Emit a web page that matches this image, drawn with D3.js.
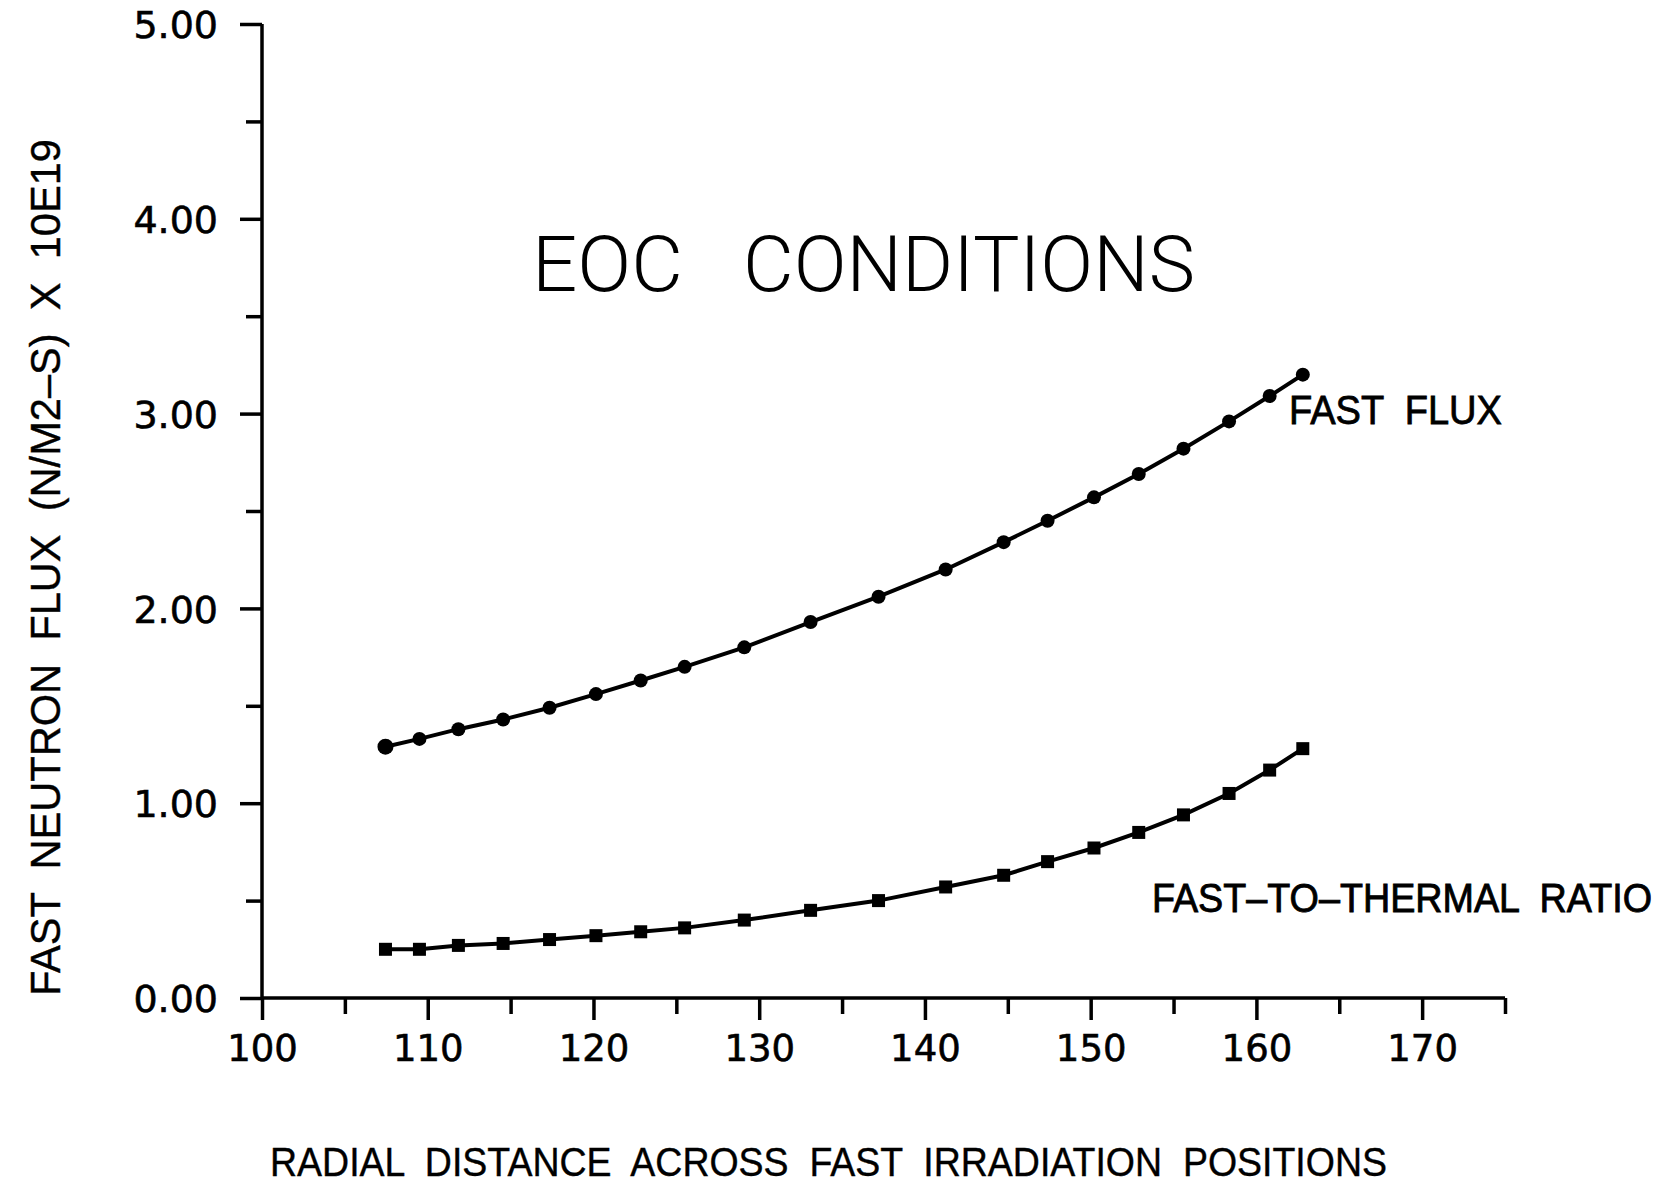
<!DOCTYPE html>
<html>
<head>
<meta charset="utf-8">
<script src="https://cdn.jsdelivr.net/npm/d3@7"></script>
<style>
  html, body { margin: 0; padding: 0; background: #fff; }
  svg { display: block; }
  text { white-space: pre; }
</style>
</head>
<body>
<svg id="chart" width="1680" height="1184"></svg>
<script>
// ---- data ----
const radialPositions = [107.45, 109.5, 111.85, 114.55, 117.35, 120.15, 122.85, 125.5, 129.1, 133.1,
                         137.2, 141.25, 144.75, 147.4, 150.2, 152.9, 155.6, 158.35, 160.8, 162.8];
const fastFlux = [1.29, 1.33, 1.38, 1.43, 1.49, 1.56, 1.63, 1.70, 1.80, 1.93,
                  2.06, 2.20, 2.34, 2.45, 2.57, 2.69, 2.82, 2.96, 3.09, 3.20];
const fastToThermalRatio = [0.25, 0.25, 0.27, 0.28, 0.30, 0.32, 0.34, 0.36, 0.40, 0.45,
                            0.50, 0.57, 0.63, 0.70, 0.77, 0.85, 0.94, 1.05, 1.17, 1.28];
const xMajorTicks = [100, 110, 120, 130, 140, 150, 160, 170];
const xMinorTicks = [105, 115, 125, 135, 145, 155, 165, 175];
const yMajorTicks = [0, 1, 2, 3, 4, 5];
const yMinorTicks = [0.5, 1.5, 2.5, 3.5, 4.5];
const chartTitle = ["EOC", "CONDITIONS"];
const seriesLabels = ["FAST  FLUX", "FAST\u2013TO\u2013THERMAL  RATIO"];
const xTitle = "RADIAL  DISTANCE  ACROSS  FAST  IRRADIATION  POSITIONS";
const yTitle = "FAST  NEUTRON  FLUX  (N/M2\u2013S)  X  10E19";

// ---- layout ----
const svg = d3.select("#chart");
const x = d3.scaleLinear().domain([100, 175]).range([262, 1505]);
const y = d3.scaleLinear().domain([0, 5]).range([998, 24]);

const tickFont = "DejaVu Sans, Liberation Sans, sans-serif";

// Y axis (major with labels)
const yAxisMajor = svg.append("g").attr("transform", `translate(${x(100)},0)`)
  .call(d3.axisLeft(y).tickValues(yMajorTicks).tickSize(22).tickPadding(22)
        .tickFormat(d3.format(".2f")));
yAxisMajor.select(".domain").remove();
yAxisMajor.selectAll("line").attr("stroke", "#000").attr("stroke-width", 3.5);
yAxisMajor.selectAll("text").attr("font-family", tickFont).attr("font-size", 38)
  .attr("fill", "#000").attr("stroke", "#000").attr("stroke-width", 0.6).attr("dy", "0.36em");

const yAxisMinor = svg.append("g").attr("transform", `translate(${x(100)},0)`)
  .call(d3.axisLeft(y).tickValues(yMinorTicks).tickSize(16).tickFormat(""));
yAxisMinor.select(".domain").remove();
yAxisMinor.selectAll("line").attr("stroke", "#000").attr("stroke-width", 3.5);

// X axis
const xAxisMajor = svg.append("g").attr("transform", `translate(0,${y(0)})`)
  .call(d3.axisBottom(x).tickValues(xMajorTicks).tickSize(22).tickPadding(12)
        .tickFormat(d3.format("d")));
xAxisMajor.select(".domain").remove();
xAxisMajor.selectAll("line").attr("stroke", "#000").attr("stroke-width", 3.5);
xAxisMajor.selectAll("text").attr("font-family", tickFont).attr("font-size", 37)
  .attr("fill", "#000").attr("stroke", "#000").attr("stroke-width", 0.6).attr("dy", "0.78em");

const xAxisMinor = svg.append("g").attr("transform", `translate(0,${y(0)})`)
  .call(d3.axisBottom(x).tickValues(xMinorTicks).tickSize(16).tickFormat(""));
xAxisMinor.select(".domain").remove();
xAxisMinor.selectAll("line").attr("stroke", "#000").attr("stroke-width", 3.5);

// axis lines
svg.append("line").attr("x1", x(100)).attr("x2", x(100)).attr("y1", y(5)).attr("y2", y(0))
  .attr("stroke", "#000").attr("stroke-width", 3.5);
svg.append("line").attr("x1", x(100)).attr("x2", x(175)).attr("y1", y(0)).attr("y2", y(0))
  .attr("stroke", "#000").attr("stroke-width", 3.5);

// ---- series ----
const fluxData = radialPositions.map((r, i) => ({ x: r, y: fastFlux[i] }));
const ratioData = radialPositions.map((r, i) => ({ x: r, y: fastToThermalRatio[i] }));
const line = d3.line().x(d => x(d.x)).y(d => y(d.y));

svg.append("path").datum(fluxData).attr("d", line)
  .attr("fill", "none").attr("stroke", "#000").attr("stroke-width", 4);
svg.append("path").datum(ratioData).attr("d", line)
  .attr("fill", "none").attr("stroke", "#000").attr("stroke-width", 4);

svg.append("g").selectAll("circle").data(fluxData).join("circle")
  .attr("cx", d => x(d.x)).attr("cy", d => y(d.y)).attr("r", (d, i) => i === 0 ? 8 : 7)
  .attr("fill", "#000");

const sq = 13;
svg.append("g").selectAll("rect").data(ratioData).join("rect")
  .attr("x", d => x(d.x) - sq / 2).attr("y", d => y(d.y) - sq / 2)
  .attr("width", sq).attr("height", sq).attr("fill", "#000");

// ---- texts ----
const titleFont = "Roboto, Inter, Lato, sans-serif";
svg.append("text").text(chartTitle[0])
  .attr("x", 532).attr("y", 291).attr("font-family", titleFont).attr("font-weight", 300)
  .attr("font-size", 77).attr("textLength", 151).attr("lengthAdjust", "spacingAndGlyphs");
svg.append("text").text(chartTitle[1])
  .attr("x", 743).attr("y", 291).attr("font-family", titleFont).attr("font-weight", 300)
  .attr("font-size", 77).attr("textLength", 452).attr("lengthAdjust", "spacingAndGlyphs");

const labelFont = "Liberation Sans, Arial, sans-serif";
svg.append("text").text(seriesLabels[0])
  .attr("x", 1289).attr("y", 424).attr("font-family", labelFont).attr("font-size", 41)
  .attr("stroke", "#000").attr("stroke-width", 0.8)
  .attr("textLength", 213).attr("lengthAdjust", "spacingAndGlyphs");
svg.append("text").text(seriesLabels[1])
  .attr("transform", "translate(1152,912) scale(1,1.1)")
  .attr("font-family", labelFont).attr("font-size", 37)
  .attr("stroke", "#000").attr("stroke-width", 0.8)
  .attr("textLength", 500).attr("lengthAdjust", "spacingAndGlyphs");

svg.append("text").text(xTitle)
  .attr("x", 270).attr("y", 1176).attr("font-family", labelFont).attr("font-size", 41)
  .attr("stroke", "#000").attr("stroke-width", 0.4)
  .attr("textLength", 1117).attr("lengthAdjust", "spacingAndGlyphs");

svg.append("text").text(yTitle)
  .attr("transform", "translate(60,996) rotate(-90)")
  .attr("font-family", labelFont).attr("font-size", 42)
  .attr("stroke", "#000").attr("stroke-width", 0.4)
  .attr("textLength", 857).attr("lengthAdjust", "spacingAndGlyphs");
</script>
</body>
</html>
